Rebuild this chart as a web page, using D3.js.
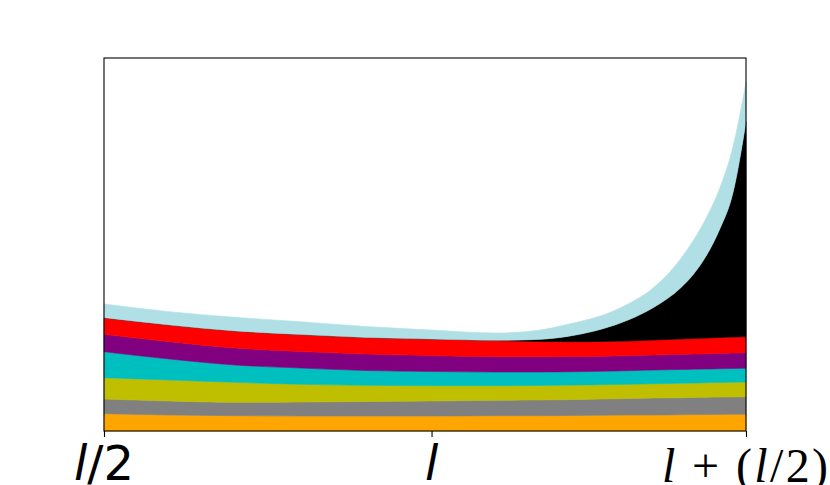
<!DOCTYPE html>
<html>
<head>
<meta charset="utf-8">
<script src="https://cdn.jsdelivr.net/npm/d3@7"></script>
<style>
  html, body { margin: 0; padding: 0; background: #fff; }
  svg { display: block; }
</style>
</head>
<body>
<svg id="chart" width="830" height="485"></svg>
<script>
// sample positions (index along x, 0..49)
const xIndex = [0,5,10,15,20,25,30,33,36,38,40,42,44,45,46,47,48,49];

// stacked layer thicknesses, bottom to top
const orange    = [17.3,16,15.3,15,15,15,15.3,15.3,15.5,15.7,16,16,16.3,16.4,16.5,16.6,16.7,16.7];
const gray      = [14.7,14,13.4,14,14.5,15,15.4,15.7,16,16.3,16.5,17,17,17.1,17.2,17.3,17.3,17.6];
const olive     = [21.3,21,20,17.7,16.2,15.3,14.6,14.5,14.5,14.3,14.2,14.3,14.4,14.5,14.6,14.6,14.7,14.7];
const cyan      = [26,21,17.3,16.3,14.8,14.2,13.7,13.5,13.3,13.4,13.6,13.7,13.8,13.8,13.7,13.8,13.8,13.7];
const purple    = [17.4,17.3,17,16.5,16.5,16,15.3,15.3,15.2,15,15.2,15,15.2,15.2,15.3,15.4,15.5,15.6];
const red       = [16.6,16.7,17,17,16.5,16.5,16.2,15.2,14.8,14.8,14.5,15,15.3,15.5,15.7,15.8,16,16];
const black     = [0,0,0,0,0,0,0.2,2,6.7,12.5,21,33,51,64.5,83,108.5,144,215];
const lightblue = [13.7,13.3,13.7,12.8,11,9,7.3,9,12.5,13.5,16,20,29,34,38,41,46,39.7];

const seriesNames  = ["orange","gray","olive","cyan","purple","red","black","lightblue"];
const seriesValues = [orange, gray, olive, cyan, purple, red, black, lightblue];
const seriesColors = ["#ffa500","#808080","#bfbf00","#00bfbf","#800080","#ff0000","#000000","#b0e0e6"];

const tickIndex  = [0, 25, 49];
const tickLabels = ["l/2", "l", "l + (l/2)"];

const yMax = 373;
const xMax = 49;

// build table for d3.stack
const table = xIndex.map((xv, i) => {
  const row = { x: xv };
  seriesNames.forEach((n, k) => { row[n] = seriesValues[k][i]; });
  return row;
});

const svg = d3.select("#chart");
const mLeft = 104, mRight = 746, mTop = 58, mBottom = 431;

const xs = d3.scaleLinear().domain([0, xMax]).range([mLeft, mRight]);
const ys = d3.scaleLinear().domain([0, yMax]).range([mBottom, mTop]);

const stacked = d3.stack().keys(seriesNames)(table);

const area = d3.area()
  .x(d => xs(d.data.x))
  .y0(d => ys(d[0]))
  .y1(d => ys(d[1]))
  .curve(d3.curveMonotoneX);

svg.append("g")
  .selectAll("path")
  .data(stacked)
  .join("path")
  .attr("d", area)
  .attr("fill", (d, i) => seriesColors[i])
  .attr("stroke", (d, i) => seriesColors[i])
  .attr("stroke-width", 0.6);

// frame
svg.append("rect")
  .attr("x", mLeft).attr("y", mTop)
  .attr("width", mRight - mLeft).attr("height", mBottom - mTop)
  .attr("fill", "none").attr("stroke", "#000").attr("stroke-width", 1.1);

// x axis ticks
const xAxis = d3.axisBottom(xs)
  .tickValues(tickIndex)
  .tickSize(6)
  .tickFormat("");
const ax = svg.append("g").attr("transform", `translate(0,${mBottom})`).call(xAxis);
ax.select(".domain").remove();
ax.selectAll(".tick line").attr("stroke", "#000").attr("stroke-width", 1.1);

// tick labels
const labelY = 480;
const t0 = svg.append("text")
  .attr("x", xs(tickIndex[0])).attr("y", labelY)
  .attr("text-anchor", "middle")
  .attr("font-family", "DejaVu Sans")
  .attr("font-size", 48);
t0.append("tspan").attr("font-style", "italic").text("l");
t0.append("tspan").text("/2");

const t1 = svg.append("text")
  .attr("x", xs(tickIndex[1])).attr("y", labelY)
  .attr("text-anchor", "middle")
  .attr("font-family", "DejaVu Sans")
  .attr("font-size", 48)
  .attr("font-style", "italic")
  .text("l");

const t2 = svg.append("text")
  .attr("x", xs(tickIndex[2]) - 84).attr("y", labelY + 2)
  .attr("text-anchor", "start")
  .attr("font-family", "Liberation Serif")
  .attr("font-size", 48)
  .attr("textLength", 166)
  .attr("lengthAdjust", "spacing");
t2.append("tspan").attr("font-style", "italic").text("l");
t2.append("tspan").text(" + (");
t2.append("tspan").attr("font-style", "italic").text("l");
t2.append("tspan").text("/2)");
</script>
</body>
</html>
